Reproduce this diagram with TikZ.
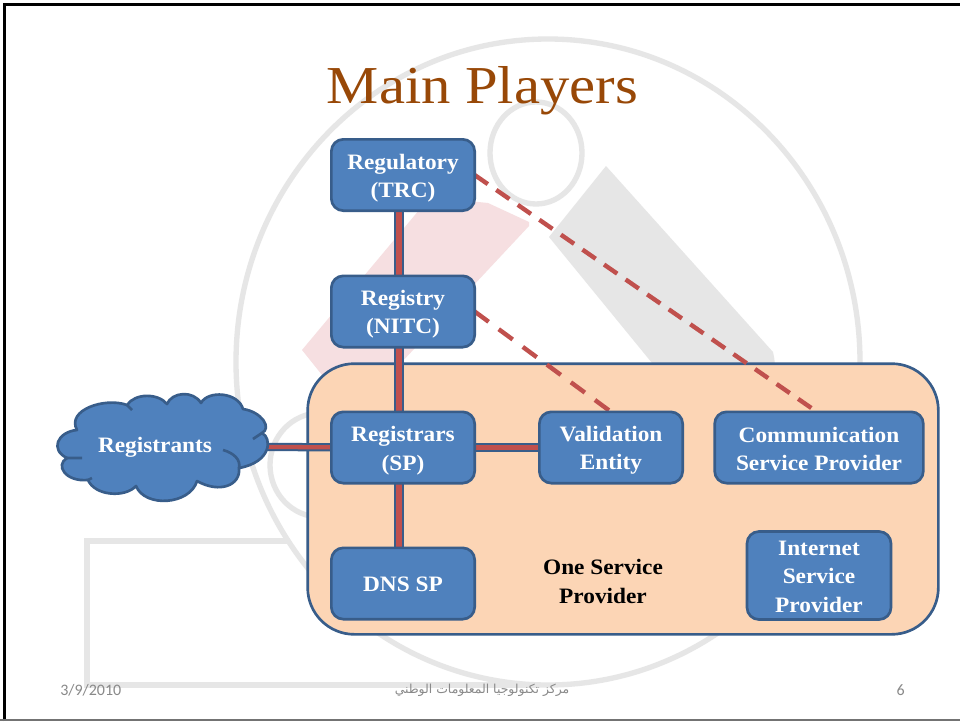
\documentclass[tikz,border=0pt]{standalone}
\usepackage{fontspec}
\setmainfont{Liberation Serif}
\newfontfamily\bookish[FakeStretch=1.06]{Liberation Serif}
\newfontfamily\titlefont[FakeStretch=1.1]{Liberation Serif}
\newfontfamily\footfont{Carlito}
\newfontfamily\arabicfont[Script=Arabic]{DejaVu Sans}
\TeXXeTstate=1
\definecolor{boxfill}{HTML}{4F81BD}
\definecolor{boxline}{HTML}{385D8A}
\definecolor{peach}{HTML}{FCD5B5}
\definecolor{linkred}{HTML}{C0504D}
\definecolor{ringgray}{HTML}{E6E6E6}
\definecolor{bandpink}{HTML}{F6DFE1}
\definecolor{footgray}{HTML}{898989}
\definecolor{titlebrown}{HTML}{984807}
\pgfdeclarelayer{backdrop}
\pgfdeclarelayer{links}
\pgfsetlayers{backdrop,links,main}
\tikzset{
  x=0.75pt,y=-0.75pt,
  player/.style={draw=boxline,fill=boxfill,line width=2pt,rounded corners=9pt,
    inner sep=0pt,outer sep=0pt},
  playertext/.style={text=white,align=center,inner sep=0pt,outer sep=0pt,
    font=\bookish\bfseries\fontsize{16.5}{21.4}\selectfont},
  ring/.style={draw=ringgray,line width=4pt},
  trunk/.style={draw=boxline,line width=1.5pt,double=linkred,double distance=3.8pt},
  branch/.style={draw=boxline,line width=1.5pt,double=linkred,double distance=3.2pt},
  duty/.style={draw=linkred,line width=3.3pt},
  foot/.style={text=footgray,inner sep=0pt},
}
\begin{document}
\begin{tikzpicture}
\useasboundingbox (0,0) rectangle (960,721);
\begin{pgfonlayer}{backdrop}
  \fill[white] (0,0) rectangle (960,721);
  % watermark
  \fill[bandpink] (302,350) -- (430,197) -- (488,203) -- (529,222) -- (529,226) -- (400,364) -- (400,385) -- (330,385) -- cycle;
  \fill[ringgray] (606,166) -- (773,352) [rounded corners=4pt] -- (775,362) -- (775,385) [sharp corners] -- (670,385) -- (549,237) -- cycle;
  \draw[ring] (548,362) ellipse [x radius=312,y radius=323];
  \draw[ring] (536,153) ellipse [x radius=46,y radius=51];
  \draw[ring] (320,465) ellipse [x radius=50,y radius=52];
  \draw[ring] (290,541) -- (87,541) -- (87,685) -- (540,685);
  % frame
  \draw[black,line width=2pt] (4.5,721) -- (4.5,4.7) -- (960,4.7);
  \draw[black!55,line width=1.5pt] (0,720) -- (960,720);
  \node[draw=boxline,fill=peach,line width=2pt,rounded corners=35pt,minimum width=473pt,minimum height=203pt,inner sep=0pt,outer sep=0pt] (provider) at (623,499) {};
\end{pgfonlayer}

\node[font=\titlefont\fontsize{40}{48}\selectfont,text=titlebrown,anchor=base,inner sep=0pt] (title) at (482.5,103) {Main Players};

\node[player,minimum width=107.5pt,minimum height=53.5pt,label={[playertext,yshift=-2.25pt]center:{Regulatory\\(TRC)}}] (regulatory) at (403,175) {};
\node[player,minimum width=107.5pt,minimum height=53.5pt,label={[playertext,yshift=-2pt]center:{Registry\\(NITC)}}] (registry) at (403,311.5) {};
\node[player,minimum width=107.5pt,minimum height=53.5pt,label={[playertext,yshift=-2.25pt]center:{Registrars\\(SP)}}] (registrars) at (403,447.5) {};
\node[player,minimum width=107.5pt,minimum height=53.5pt,label={[playertext,yshift=-0.75pt]center:{DNS SP}}] (dns) at (403,583.5) {};
\node[player,minimum width=107.5pt,minimum height=53.5pt,label={[playertext,yshift=-2pt]center:{Validation\\Entity}}] (validation) at (611,447.5) {};
\node[player,minimum width=156.5pt,minimum height=53.5pt,label={[playertext,yshift=-1.1pt]center:{Communication\\Service Provider}}] (communication) at (819,447.5) {};
\node[player,minimum width=108pt,minimum height=66pt,label={[playertext,yshift=-0.75pt]center:{Internet\\Service\\Provider}}] (internet) at (819,575.5) {};
\node[text=black,align=center,inner sep=0pt,font=\bookish\bfseries\fontsize{16.5}{21.6}\selectfont] (onesp) at (603,581.5) {One Service\\Provider};

% cloud
\draw[boxline,fill=boxfill,line width=2pt,line join=round]
  (77,430) .. controls (66,410) and (105,397) .. (127,405)
  .. controls (135,393) and (158,393) .. (167,404)
  .. controls (172,392) and (193,390) .. (201,403)
  .. controls (208,390) and (238,392) .. (243,409)
  .. controls (262,412) and (272,428) .. (262,433)
  .. controls (272,438) and (272,462) .. (239,468)
  .. controls (241,485) and (220,494) .. (197,481)
  .. controls (190,505) and (145,508) .. (136,486)
  .. controls (125,498) and (95,496) .. (88,480)
  .. controls (65,482) and (55,465) .. (67,458)
  .. controls (50,450) and (57,432) .. (77,430) -- cycle;
\draw[boxline,line width=2pt]
  (127,405) -- (132,410)  (262,433) -- (253,439)
  (239,468) .. controls (241,460) and (234,453) .. (223,450)
  (67,458) -- (82,458) (88,480) -- (92,478);
\node[text=white,inner sep=0pt,outer sep=0pt,minimum width=169.5pt,font=\bookish\bfseries\fontsize{16.5}{21}\selectfont] (registrants) at (155,447) {Registrants};

\begin{pgfonlayer}{links}
  \draw[trunk] ([xshift=-3pt]regulatory.south) -- ([xshift=-3pt]registry.north);
  \draw[trunk] ([xshift=-3pt]registry.south) -- ([xshift=-3pt]registrars.north);
  \draw[trunk] ([xshift=-3pt]registrars.south) -- ([xshift=-3pt]dns.north);
  \draw[branch] (registrars) -- (validation);
  \draw[branch] (registrants.east) -- (registrars);
  \draw[duty,dash pattern=on 12pt off 7.67pt] (regulatory.east) -- ([xshift=-4.5pt,yshift=2pt]communication.north);
  \draw[duty,dash pattern=on 13pt off 9.4pt] (registry.east) -- (validation.north);
\end{pgfonlayer}

\node[foot,anchor=base west,font=\footfont\fontsize{12}{14}\selectfont] (date) at (60,695) {3/9/2010};
\node[foot,font=\arabicfont\fontsize{9.3}{11}\selectfont] (centre) at (482,690) {\beginR مركز تكنولوجيا المعلومات الوطني\endR};
\node[foot,anchor=base east,font=\footfont\fontsize{12}{14}\selectfont] (page) at (905,695) {6};
\end{tikzpicture}
\end{document}
